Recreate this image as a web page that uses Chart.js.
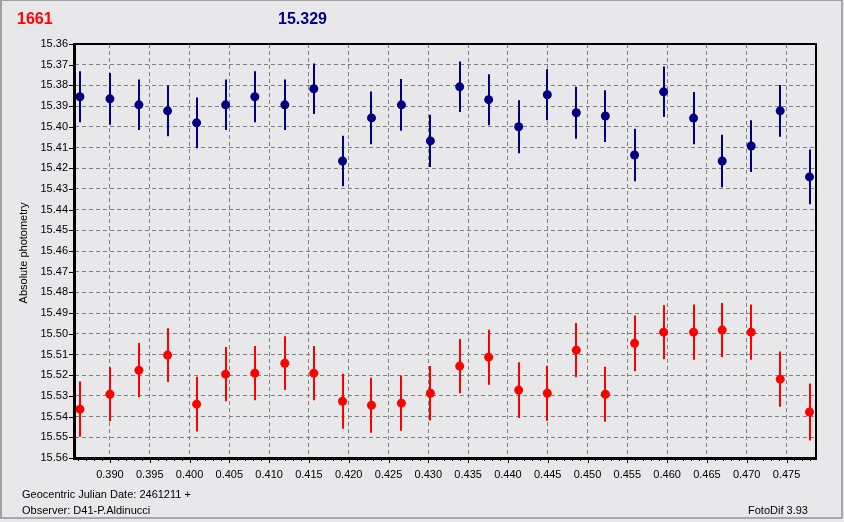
<!DOCTYPE html>
<html><head><meta charset="utf-8">
<script src="https://cdn.jsdelivr.net/npm/chart.js@4"></script>
<style>
html,body{margin:0;padding:0;background:#E8E8EA;}
#wrap{position:relative;width:844px;height:522px;overflow:hidden;background:#E8E8EA;}
#c{position:absolute;left:0;top:0;}
#frame{position:absolute;left:0;top:0;width:839px;height:516px;border-left:2px solid #A0A0A0;border-top:1px solid #A0A0A0;border-right:2px solid #A8A8A8;border-bottom:2px solid #A8A8A8;pointer-events:none;}
.t{position:absolute;font-family:"Liberation Sans",Arial,sans-serif;white-space:nowrap;color:#000;font-size:11px;line-height:normal;}
</style></head>
<body><div id="wrap"><canvas id="c" width="844" height="522"></canvas>
<div id="frame"></div>
<div class="t" style="left:17px;top:10px;font-size:16px;font-weight:bold;color:#FF0000">1661</div>
<div class="t" style="left:278px;top:10px;font-size:16px;font-weight:bold;color:#000080">15.329</div>
<div class="t" style="left:22.5px;top:252.5px;transform:translate(-50%,-50%) rotate(-90deg);">Absolute photometry</div>
<div class="t" style="left:22px;top:488px;">Geocentric Julian Date: 2461211 +</div>
<div class="t" style="left:22px;top:504px;">Observer: D41-P.Aldinucci</div>
<div class="t" style="left:748px;top:504px;">FotoDif 3.93</div>
</div>
<script>
// Julian date fraction (2461211 +)
const jd = [0.38623, 0.39000, 0.39364, 0.39724, 0.40089, 0.40453, 0.40820, 0.41197, 0.41561, 0.41922, 0.42286, 0.42662, 0.43026,
            0.43394, 0.43758, 0.44135, 0.44495, 0.44859, 0.45224, 0.45591, 0.45956, 0.46332, 0.46692, 0.47056, 0.47421, 0.47789];
// target (blue)
const targetMag = [15.3855, 15.3865, 15.3894, 15.3923, 15.3981, 15.3894, 15.3855, 15.3894, 15.3816, 15.4165, 15.3957, 15.3894, 15.4068,
                   15.3807, 15.3869, 15.4000, 15.3845, 15.3932, 15.3948, 15.4136, 15.3831, 15.3958, 15.4165, 15.4093, 15.3923, 15.4242];
const targetErr = [0.0123, 0.0125, 0.0122, 0.0123, 0.0123, 0.0122, 0.0123, 0.0122, 0.0122, 0.0122, 0.0127, 0.0125, 0.0126,
                   0.0122, 0.0123, 0.0128, 0.0123, 0.0126, 0.0125, 0.0127, 0.0122, 0.0126, 0.0127, 0.0125, 0.0125, 0.0132];
// check star (red)
const checkMag = [15.5364, 15.5292, 15.5176, 15.5103, 15.5340, 15.5195, 15.5190, 15.5142, 15.5190, 15.5326, 15.5345, 15.5335, 15.5287,
                  15.5156, 15.5113, 15.5272, 15.5287, 15.5079, 15.5292, 15.5046, 15.4992, 15.4992, 15.4982, 15.4992, 15.5219, 15.5378];
const checkErr = [0.0133, 0.0131, 0.0131, 0.0130, 0.0132, 0.0131, 0.0131, 0.0130, 0.0131, 0.0133, 0.0133, 0.0133, 0.0132,
                  0.0131, 0.0133, 0.0135, 0.0133, 0.0131, 0.0133, 0.0135, 0.0131, 0.0133, 0.0131, 0.0133, 0.0133, 0.0138];
// tick labels
const xTicks = [0.390, 0.395, 0.400, 0.405, 0.410, 0.415, 0.420, 0.425, 0.430, 0.435, 0.440, 0.445, 0.450, 0.455, 0.460, 0.465, 0.470, 0.475];
const yTicks = [15.36, 15.37, 15.38, 15.39, 15.40, 15.41, 15.42, 15.43, 15.44, 15.45, 15.46, 15.47, 15.48, 15.49, 15.50, 15.51, 15.52, 15.53, 15.54, 15.55, 15.56];
const xMin = 0.38561, xMax = 0.47858;

const errorBars = {
  id: 'errorBars',
  beforeDatasetsDraw(chart) {
    const ctx = chart.ctx, xs = chart.scales.x, ys = chart.scales.y;
    chart.data.datasets.forEach(ds => {
      ctx.save();
      ctx.strokeStyle = ds.backgroundColor;
      ctx.lineWidth = 2;
      ds.data.forEach((p, i) => {
        const px = Math.round(xs.getPixelForValue(p.x));
        const y1 = ys.getPixelForValue(p.y - ds.errors[i]);
        const y2 = ys.getPixelForValue(p.y + ds.errors[i]);
        ctx.beginPath(); ctx.moveTo(px, y1); ctx.lineTo(px, y2); ctx.stroke();
      });
      ctx.restore();
    });
  }
};

const frame = {
  id: 'frame',
  afterDraw(chart) {
    const ctx = chart.ctx, a = chart.chartArea, xs = chart.scales.x, ys = chart.scales.y;
    ctx.save();
    ctx.strokeStyle = '#000';
    ctx.lineWidth = 1;
    ctx.beginPath();
    yTicks.forEach(v => { const y = Math.round(ys.getPixelForValue(v)) + 0.5; ctx.moveTo(a.left - 6, y); ctx.lineTo(a.left, y); });
    for (let k = 386; k <= 478; k++) {
      const v = k / 1000;
      const x = Math.round(xs.getPixelForValue(v)) + 0.5;
      const len = (k % 5 === 0) ? 5 : 3;
      ctx.moveTo(x, a.bottom); ctx.lineTo(x, a.bottom + len);
    }
    ctx.stroke();
    ctx.fillStyle = '#000';
    ctx.fillRect(a.left - 2, a.top - 1, a.right - a.left + 3, 2);   // top
    ctx.fillRect(a.right, a.top - 1, 2, a.bottom - a.top + 2);       // right
    ctx.fillRect(a.left - 2, a.top - 1, 3, a.bottom - a.top + 3);    // left
    ctx.fillRect(a.left - 2, a.bottom - 1, a.right - a.left + 4, 3); // bottom
    ctx.restore();
  }
};

const tickFont = { family: '"Liberation Sans", Arial, sans-serif', size: 11 };

new Chart(document.getElementById('c'), {
  type: 'scatter',
  data: {
    datasets: [
      { label: 'target', data: jd.map((x, i) => ({ x, y: targetMag[i] })), errors: targetErr,
        backgroundColor: '#000080', borderColor: '#000080', pointRadius: 4.5, borderWidth: 0, pointHoverRadius: 4.5 },
      { label: 'check', data: jd.map((x, i) => ({ x, y: checkMag[i] })), errors: checkErr,
        backgroundColor: '#FF0000', borderColor: '#FF0000', pointRadius: 4.5, borderWidth: 0, pointHoverRadius: 4.5 }
    ]
  },
  options: {
    responsive: false, animation: false, devicePixelRatio: 1, events: [],
    layout: { padding: { left: 0, top: 44, right: 29, bottom: 0 } },
    plugins: { legend: { display: false }, tooltip: { enabled: false } },
    scales: {
      x: {
        type: 'linear', min: xMin, max: xMax,
        afterBuildTicks: s => { s.ticks = xTicks.map(v => ({ value: v })); },
        afterFit: s => { s.height = 64; },
        grid: { color: '#808080', lineWidth: 1, drawTicks: false },
        border: { display: false, dash: [4, 3] },
        ticks: { padding: 10, color: '#000', font: tickFont, autoSkip: false, maxRotation: 0, callback: v => Number(v).toFixed(3) }
      },
      y: {
        type: 'linear', reverse: true, min: 15.36, max: 15.56,
        afterBuildTicks: s => { s.ticks = yTicks.map(v => ({ value: v })); },
        afterFit: s => { s.width = 75; },
        grid: { color: '#808080', lineWidth: 1, drawTicks: false },
        border: { display: false, dash: [4, 3] },
        ticks: { padding: 7, color: '#000', font: tickFont, autoSkip: false, callback: v => Number(v).toFixed(2) }
      }
    }
  },
  plugins: [errorBars, frame]
});
</script>
</body></html>
